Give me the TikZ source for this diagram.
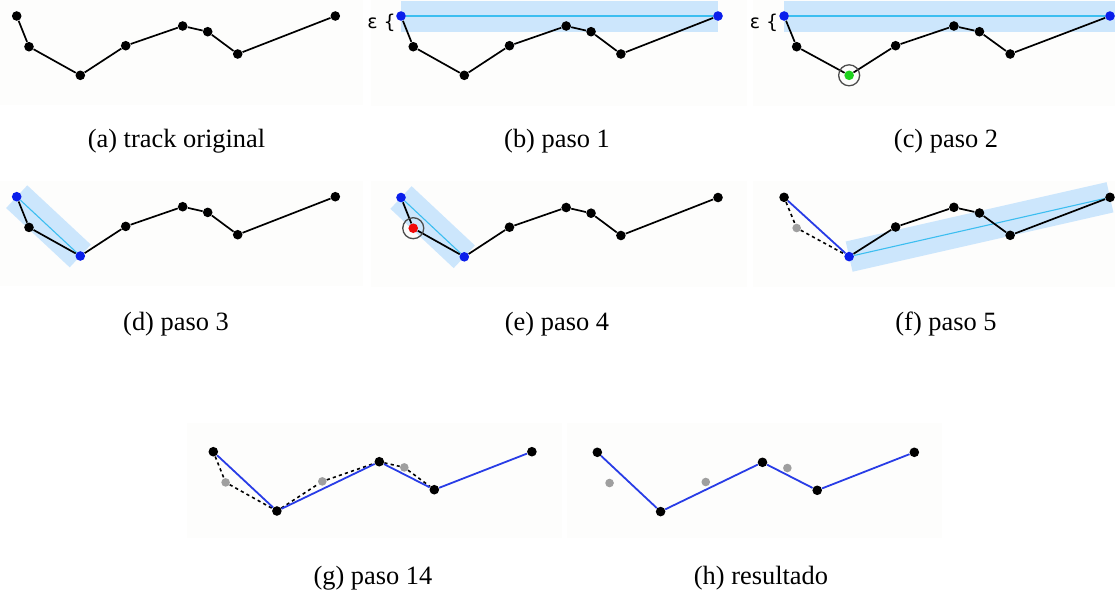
\documentclass[tikz,border=0pt]{standalone}
\usepackage{fontspec}
\setmainfont{Liberation Serif}
\newfontfamily\epsfont{DejaVu Sans}
\usepackage{xcolor}
\usepackage{tikz}

\pgfdeclarelayer{bg}
\pgfsetlayers{bg,main}

\definecolor{paper}{RGB}{253,253,252}
\definecolor{bandblue}{RGB}{204,230,252}
\definecolor{axisblue}{RGB}{60,190,240}
\definecolor{dotblue}{RGB}{10,30,235}
\definecolor{keptblue}{RGB}{40,60,230}
\definecolor{dotgreen}{RGB}{30,210,30}
\definecolor{dotred}{RGB}{240,10,10}

\begin{document}
\begin{tikzpicture}[x=0.5pt, y=-0.5pt,
    pt/.style={circle, fill=black, inner sep=0pt, minimum size=4.8pt},
    gone/.style={fill=gray!75, minimum size=4.3pt},
    dot b1/.style={fill=dotblue}, dot b8/.style={fill=dotblue},
    dot c1/.style={fill=dotblue}, dot c8/.style={fill=dotblue},
    dot c3/.style={fill=dotgreen},
    dot d1/.style={fill=dotblue}, dot d3/.style={fill=dotblue},
    dot e1/.style={fill=dotblue}, dot e3/.style={fill=dotblue},
    dot e2/.style={fill=dotred},
    dot f2/.style={gone}, dot f3/.style={fill=dotblue},
    dot g2/.style={gone}, dot g4/.style={gone}, dot g6/.style={gone},
    dot h2/.style={gone}, dot h4/.style={gone}, dot h6/.style={gone},
    track/.style={line width=.85pt, black},
    kept/.style={line width=.9pt, keptblue},
    dropped/.style={line width=.8pt, dash pattern=on 1.6pt off 1.6pt},
    band/.style={line width=15.5pt, bandblue},
    axis/.style={line width=.55pt, axisblue},
    ring/.style={circle, draw=gray!60!black, line width=.65pt, inner sep=0pt, minimum size=10.5pt},
    caption/.style={font=\fontsize{13.2}{15}\selectfont}]
    \useasboundingbox (0,0) rectangle (1115,595);

    % the track, once per panel
    \foreach \p/\sx/\sy/\k in {a/0/0/1, b/384.4/0/.995, c/767/0/1.023,
        d/0/180.7/1, e/384.4/181.5/.995, f/767/181.3/1.023,
        g/196.6/435.7/1, h/580.7/436.3/.995}
      \foreach \i/\x/\y in {1/16.7/16, 2/29/46.7, 3/80.3/75.3, 4/125.7/45.7,
          5/182.7/26, 6/207.7/31.7, 7/237.7/54, 8/335.3/16}
        \node[pt, dot \p\i/.try] (\p\i) at ({\sx+\k*\x},{\sy+\y}) {};

    \begin{pgfonlayer}{bg}
      \foreach \x/\y/\w/\h in {0/0/363/105, 371/0/376/106, 753/0/362/106,
          0/181/363/105, 371/181/376/106, 753/181/362/106,
          187/423/375/115, 567/423/375/115}
        \fill[paper] (\x,\y) rectangle ++(\w,\h);
      \draw[band] (b1.center) -- (b8.center);
      \draw[band] (c1.center) -- ++(340,0);
      \draw[band] (d1.center) -- (d3.center);
      \draw[band] (e1.center) -- (e3.center);
      \draw[band] (f3.center) -- (f8.center);
      \draw[axis] (b1) -- (b8);
      \draw[axis] (c1) -- (c8);
      \draw[axis] (d1) -- (d3);
      \draw[axis] (e1) -- (e3);
      \draw[axis] (f3) -- (f8);
    \end{pgfonlayer}

    \foreach \p in {a,b,c,d,e}
      \draw[track] (\p1) -- (\p2) -- (\p3) -- (\p4) -- (\p5) -- (\p6) -- (\p7) -- (\p8);
    \draw[track] (f3) -- (f4) -- (f5) -- (f6) -- (f7) -- (f8);
    \draw[dropped] (f1) -- (f2) -- (f3);
    \draw[kept] (f1) -- (f3);
    \draw[dropped] (g1) -- (g2) -- (g3) -- (g4) -- (g5) -- (g6) -- (g7);
    \draw[kept] (g1) -- (g3) -- (g5) -- (g7) -- (g8);
    \draw[kept] (h1) -- (h3) -- (h5) -- (h7) -- (h8);

    \node[ring] (c3ring) at (c3) {};
    \node[ring] (e2ring) at (e2) {};
    \node[font=\epsfont\fontsize{9.5}{10}\selectfont] (epsb) at (381.5,22.5) {ε \{};
    \node[font=\epsfont\fontsize{9.5}{10}\selectfont] (epsc) at (764,22.5) {ε \{};

    \node[caption] (capa) at (176.5,141) {(a) track original};
    \node[caption] (capb) at (557,141) {(b) paso 1};
    \node[caption] (capc) at (946,141) {(c) paso 2};
    \node[caption] (capd) at (176,324) {(d) paso 3};
    \node[caption] (cape) at (557,324) {(e) paso 4};
    \node[caption] (capf) at (946,324) {(f) paso 5};
    \node[caption] (capg) at (373,578) {(g) paso 14};
    \node[caption] (caph) at (761,578) {(h) resultado};
\end{tikzpicture}
\end{document}
